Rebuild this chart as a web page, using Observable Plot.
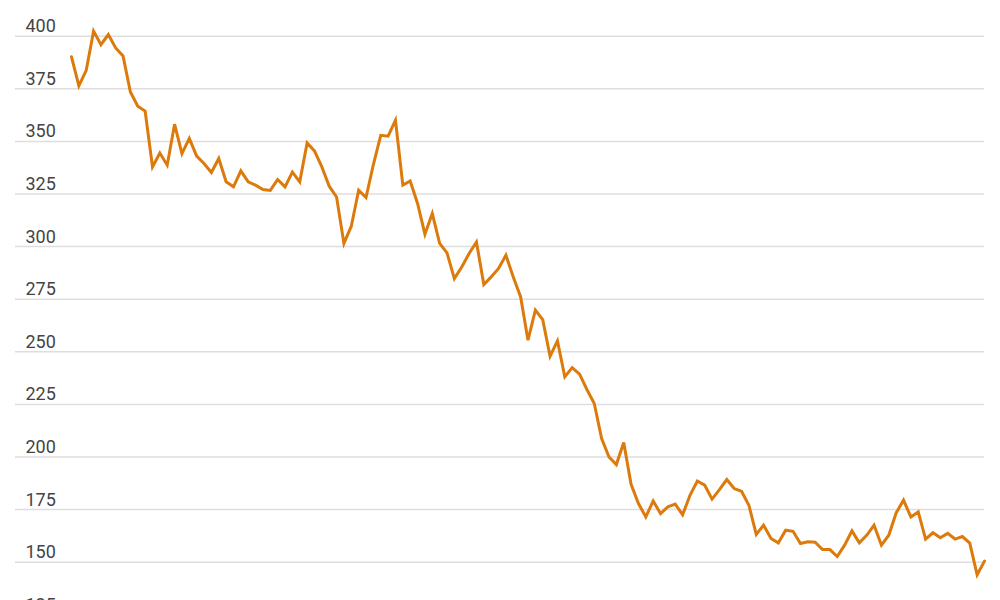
<!DOCTYPE html>
<html>
<head>
<meta charset="utf-8">
<script src="https://cdn.jsdelivr.net/npm/d3@7"></script>
<script src="https://cdn.jsdelivr.net/npm/@observablehq/plot@0.6"></script>
<style>
  html, body { margin: 0; padding: 0; background: #fff; overflow: hidden; }
  #chart { width: 1000px; height: 600px; overflow: hidden; }
</style>
</head>
<body>
<div id="chart"></div>
<script>
// Series values (one per period, evenly spaced)
const values = [
  390.2, 376.4, 383.8, 402.4, 396.0, 400.8, 394.4, 390.6, 373.5, 366.7,
  364.4, 337.9, 344.5, 338.7, 358.2, 344.2, 351.4, 343.0, 339.5, 335.2,
  341.9, 330.8, 328.4, 336.0, 330.8, 329.2, 327.1, 326.7, 331.9, 328.4,
  335.4, 330.8, 349.3, 345.5, 337.9, 328.7, 323.6, 301.5, 309.7, 326.8,
  323.3, 339.0, 352.9, 352.5, 360.1, 329.2, 331.2, 320.5, 305.9, 315.7,
  301.5, 297.0, 284.8, 290.3, 296.7, 302.2, 282.0, 285.6, 289.6, 295.9,
  285.6, 276.1, 255.5, 269.8, 265.3, 247.9, 255.2, 238.1, 242.5, 239.4,
  232.1, 225.4, 208.8, 200.0, 196.4, 206.9, 187.0, 177.9, 171.5, 179.1,
  173.1, 176.3, 177.6, 172.5, 181.8, 188.6, 186.6, 180.0, 184.5, 189.3,
  185.0, 183.7, 177.1, 163.2, 167.6, 161.3, 159.2, 165.2, 164.7, 158.9,
  159.7, 159.5, 156.0, 156.0, 152.7, 158.1, 164.9, 159.2, 162.8, 167.6,
  158.1, 162.8, 173.4, 179.5, 171.5, 173.9, 161.0, 164.0, 161.6, 163.7,
  161.0, 162.2, 159.1, 144.0, 150.5
];
const periods = values.map((_, i) => i);
const yTicks = [125, 150, 175, 200, 225, 250, 275, 300, 325, 350, 375, 400];

const data = periods.map((p, i) => ({period: p, value: values[i]}));

const chart = Plot.plot({
  width: 1000,
  height: 640,
  marginTop: 35.7,
  marginBottom: 25.7,
  marginLeft: 15,
  marginRight: 16,
  style: {fontFamily: "Roboto, sans-serif", background: "#fff"},
  x: {domain: [0, values.length - 1], insetLeft: 56, axis: null},
  y: {domain: [125, 400], axis: null},
  marks: [
    Plot.gridY(yTicks, {stroke: "#dedede", strokeOpacity: 1, strokeWidth: 1.5}),
    Plot.text(yTicks, {
      y: d => d,
      text: d => String(d),
      frameAnchor: "left",
      textAnchor: "start",
      lineAnchor: "bottom",
      dx: 10,
      dy: -4,
      fontSize: 18,
      fill: "#444",
      style: {letterSpacing: "-0.6px"}
    }),
    Plot.lineY(data, {
      x: "period",
      y: "value",
      stroke: "#dc7a0c",
      strokeWidth: 3,
      strokeLinejoin: "miter",
      strokeMiterlimit: 4
    })
  ]
});
document.getElementById("chart").appendChild(chart);
</script>
</body>
</html>
